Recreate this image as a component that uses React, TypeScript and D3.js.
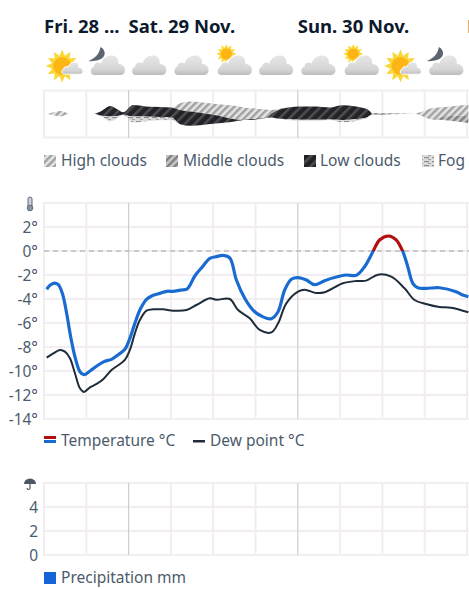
import React from 'react';
import * as d3 from 'd3';

// hours counted from Fri 12:00, one grid cell is 6 hours
const tempHours = [0.38, 0.85, 1.46, 2.03, 2.6, 3.21, 3.78, 4.39, 5.1, 5.67, 6.52, 7.7, 8.64, 9.58, 10.53, 11.47, 12.18, 12.89, 13.6, 14.54, 15.49, 16.43, 17.37, 18.32, 19.5, 20.35, 21.39, 22.57, 23.51, 24.46, 25.4, 26.35, 27.29, 28.47, 29.65, 30.83, 32.25, 33.2, 34.14, 35.09, 36.03, 37.21, 38.39, 39.8, 41.46, 42.87, 44.29, 45.47, 46.65, 47.6, 48.91, 49.95, 50.9, 51.6, 52.31, 53.02, 54.2, 56.09, 58.45, 59.39, 60.2];
const temperature = [-3.19, -2.86, -2.67, -2.81, -3.53, -5.19, -7.14, -8.81, -10.06, -10.31, -10.0, -9.5, -9.19, -9.03, -8.64, -8.19, -7.28, -6.03, -4.92, -4.03, -3.69, -3.53, -3.36, -3.36, -3.25, -3.14, -2.08, -1.25, -0.61, -0.47, -0.36, -0.57, -2.42, -3.94, -4.92, -5.42, -5.64, -5.06, -3.25, -2.36, -2.22, -2.42, -2.81, -2.47, -2.17, -2.0, -2.03, -1.31, -0.06, 0.92, 1.25, 0.92, -0.06, -1.31, -2.69, -3.06, -3.11, -3.06, -3.39, -3.67, -3.81];

const dewHours = [0.38, 1.32, 2.27, 2.97, 3.68, 4.39, 5.1, 5.67, 6.52, 7.46, 8.4, 9.58, 11.47, 12.18, 12.89, 13.6, 14.54, 15.49, 16.9, 18.32, 20.21, 21.62, 23.51, 24.46, 26.35, 27.53, 29.18, 30.6, 32.25, 33.2, 34.37, 36.03, 36.97, 38.62, 39.8, 42.39, 44.29, 45.7, 47.36, 49.25, 51.14, 52.56, 54.2, 56.09, 57.74, 60.2];
const dewPoint = [-8.89, -8.53, -8.25, -8.39, -8.94, -10.19, -11.44, -11.75, -11.36, -11.08, -10.69, -9.92, -9.08, -8.25, -6.86, -5.75, -4.97, -4.86, -4.86, -4.97, -4.92, -4.5, -3.94, -4.06, -4.0, -4.92, -5.61, -6.58, -6.78, -6.03, -4.36, -3.39, -3.22, -3.5, -3.44, -2.69, -2.5, -2.47, -1.97, -2.14, -3.11, -4.08, -4.42, -4.67, -4.72, -5.11];

// cloud cover in percent
const cloudHours = [0.4, 1, 2.3, 3.7, 7, 7.3, 8, 9.4, 10.6, 11.2, 12.65, 15, 18, 19.3, 20.7, 22.5, 24, 27, 28.3, 31.5, 32.3, 33.4, 36.3, 38.6, 40.5, 42.4, 45.7, 46.4, 46.6, 49.2, 52.5, 53, 55, 57, 60.2];
const highClouds = [0, 10, 34, 0, 0, 0, 0, 0, 0, 0, 0, 0, 0, 42, 62, 67, 69, 83, 79, 54, 21, 6, 0, 0, 0, 0, 0, 0, 0, 0, 0, 8, 69, 58, 69];
const middleClouds = [0, 0, 0, 0, 0, 0, 0, 0, 0, 0, 0, 0, 0, 0, 0, 0, 0, 0, 0, 0, 0, 0, 0, 0, 0, 0, 0, 0, 9, 6, 0, 0, 0, 25, 46];
const lowClouds = [0, 0, 0, 0, 0, 4, 25, 66, 35, 15, 73, 62, 62, 89, 89, 73, 56, 15, 0, 0, 25, 58, 83, 83, 75, 92, 56, 12, 0, 0, 0, 0, 0, 0, 0];
const fogValues = [0, 0, 0, 0, 0, 0, 2, 31, 10, 2, 37, 25, 17, 0, 0, 0, 0, 0, 0, 0, 0, 0, 8, 6, 3, 14, 5, 0, 0, 0, 0, 0, 0, 0, 0];

const dayLabels = ['Fri. 28 ...', 'Sat. 29 Nov.', 'Sun. 30 Nov.', 'Mon. 1 Dec.'];
const dayLabelHours = [0, 12, 36, 60];
const gridHours = [0, 6, 12, 18, 24, 30, 36, 42, 48, 54, 60];
const dayHours = [12, 36];
const tempTicks = [2, 0, -2, -4, -6, -8, -10, -12, -14];
const precipTicks = [4, 2, 0];
const precipitation: number[] = [];
const iconHours = [3, 9, 15, 21, 27, 33, 39, 45, 51, 57];
const iconKinds = ['sunBig', 'moon', 'cloud', 'cloud', 'sunSmall', 'cloud', 'cloud', 'sunSmall', 'sunBig', 'moon'];

const textColor = '#4c5b6c';
const gridColor = '#f2edef';
const font = '"Noto Sans", sans-serif';

const x = d3.scaleLinear().domain([0, 60]).range([44, 467]);
const yTemp = d3.scaleLinear().domain([4, -14]).range([203, 419]);
const yPrecip = d3.scaleLinear().domain([6, 0]).range([483, 555]);
const yCloud = d3.scaleLinear().domain([-150, 150]).range([89.7, 137.7]);

const tempLine = d3.line<number>()
  .x((_, i) => x(tempHours[i]))
  .y(d => yTemp(d))
  .curve(d3.curveCatmullRom.alpha(0.5));

const dewLine = d3.line<number>()
  .x((_, i) => x(dewHours[i]))
  .y(d => yTemp(d))
  .curve(d3.curveCatmullRom.alpha(0.5));

const cloudRows = cloudHours.map((hour, i) => ({
  hour,
  high: highClouds[i],
  middle: middleClouds[i],
  low: lowClouds[i],
  fog: fogValues[i]
}));

const cloudStack = d3.stack<any>()
  .keys(['high', 'middle', 'low', 'fog'])
  .offset(d3.stackOffsetSilhouette)(cloudRows);

const cloudArea = d3.area<any>()
  .x(d => x(d.data.hour))
  .y0(d => yCloud(d[0]))
  .y1(d => yCloud(d[1]))
  .curve(d3.curveMonotoneX);

const cloudFill: Record<string, string> = {
  high: 'url(#hatchHigh)',
  middle: 'url(#hatchMiddle)',
  low: 'url(#hatchLow)',
  fog: 'url(#hatchFog)'
};

const zeroOffset = (yTemp(0) - 203) / (419 - 203);

function sunPath(r: number, R: number, n: number) {
  const pts = d3.range(n * 2).map(i => {
    const a = (i * Math.PI) / n;
    const rad = i % 2 ? r : R;
    return [Math.sin(a) * rad, -Math.cos(a) * rad] as [number, number];
  });
  return d3.line()(pts) + 'Z';
}

// cloud outline, about 35 wide and 20 high around its centre
const cloudPath = 'M-13,10 C-17.5,10 -18,3 -13.5,1.5 C-13.5,-2 -9,-3.5 -6.5,-1.5 C-4.5,-7 0,-10 5,-9.5 C9.5,-9 11.5,-5 11,-1 C15,-1 18,2 17.5,6 C17,8.5 15.5,10 13,10 Z';

function Cloud({ dx = 0, dy = 0, s = 1 }: { dx?: number; dy?: number; s?: number }) {
  return (
    <g transform={`translate(${dx},${dy}) scale(${s})`}>
      <path d={cloudPath} fill="url(#cloudGrad)" stroke="#fff" strokeWidth={s < 1 ? 1.5 : 0} />
    </g>
  );
}

function Sun({ dx, dy, R, r, c }: { dx: number; dy: number; R: number; r: number; c: number }) {
  return (
    <g transform={`translate(${dx},${dy})`}>
      <path d={sunPath(r, R, 12)} fill="#fbd83a" />
      <circle r={c} fill="#fdb515" />
    </g>
  );
}

function WeatherIcon({ kind, cx }: { kind: string; cx: number }) {
  return (
    <g transform={`translate(${cx},65)`}>
      {kind === 'sunBig' && (
        <>
          <Sun dx={-3} dy={1} R={16.5} r={10.5} c={9} />
          <Cloud dx={7} dy={3} s={0.62} />
        </>
      )}
      {kind === 'moon' && (
        <>
          <path d="M-7,-18 C-1,-15 -1,-7 -9,-5 C-12,-4 -16,-3.5 -19,-4 C-14,-6 -8,-10 -7,-18 Z" fill="#5d6670" />
          <Cloud dx={0} dy={0} />
        </>
      )}
      {kind === 'cloud' && <Cloud dx={-1} dy={0} />}
      {kind === 'sunSmall' && (
        <>
          <Sun dx={-8} dy={-11} R={10} r={6.5} c={5.5} />
          <path d="M-19,1 L-9,-3 L-1,-10 L9,-9 L6,-3 L-3,2 Z" fill="#fff" opacity={0.9} />
          <Cloud dx={0} dy={0} />
        </>
      )}
    </g>
  );
}

function LegendText({ tx, ty, children }: { tx: number; ty: number; children: React.ReactNode }) {
  return (
    <text x={tx} y={ty} fontSize={15.5} fill={textColor} fontFamily={font}>{children}</text>
  );
}

function Grid({ top, bottom, rows }: { top: number; bottom: number; rows: number[] }) {
  return (
    <g>
      {rows.map(r => (
        <line key={r} x1={43} x2={469} y1={r} y2={r} stroke={gridColor} strokeWidth={2} />
      ))}
      {gridHours.map(h => (
        <line
          key={h}
          x1={x(h)}
          x2={x(h)}
          y1={top}
          y2={bottom}
          stroke={dayHours.includes(h) ? '#cfcdce' : gridColor}
          strokeWidth={dayHours.includes(h) ? 1.2 : 2}
        />
      ))}
    </g>
  );
}

export default function App() {
  return (
    <svg
      width={469}
      height={589}
      style={{ position: 'absolute', left: 0, top: 0, background: '#fff' }}
    >
      <defs>
        <pattern id="hatchHigh" width={5} height={5} patternUnits="userSpaceOnUse" patternTransform="rotate(45)">
          <rect width={5} height={5} fill="#e4e4e4" />
          <rect width={2.4} height={5} fill="#a0a0a0" />
        </pattern>
        <pattern id="hatchMiddle" width={5} height={5} patternUnits="userSpaceOnUse" patternTransform="rotate(45)">
          <rect width={5} height={5} fill="#c9c9c9" />
          <rect width={2.4} height={5} fill="#7f7f7f" />
        </pattern>
        <pattern id="hatchLow" width={7} height={7} patternUnits="userSpaceOnUse" patternTransform="rotate(45)">
          <rect width={7} height={7} fill="#232327" />
          <rect width={2.5} height={7} fill="#4e4e52" />
        </pattern>
        <pattern id="hatchFog" width={8} height={4} patternUnits="userSpaceOnUse">
          <rect width={8} height={4} fill="#dcdcdc" />
          <rect width={5} height={1.2} y={1} fill="#8e8e8e" />
          <rect x={4} width={3} height={1} y={3} fill="#a4a4a4" />
        </pattern>
        <linearGradient id="tempGrad" gradientUnits="userSpaceOnUse" x1={0} x2={0} y1={203} y2={419}>
          <stop offset={zeroOffset} stopColor="#b01010" />
          <stop offset={zeroOffset} stopColor="#1a6bd0" />
        </linearGradient>
        <linearGradient id="cloudGrad" x1={0} x2={0} y1={0} y2={1}>
          <stop offset="0" stopColor="#e6e6e6" />
          <stop offset="0.7" stopColor="#d6d6d6" />
          <stop offset="1" stopColor="#bcbcbc" />
        </linearGradient>
      </defs>

      {dayLabels.map((d, i) => (
        <text
          key={d}
          x={x(dayLabelHours[i])}
          y={33}
          fontSize={18.5}
          fontWeight={700}
          fill="#0d1a2e"
          fontFamily={font}
        >
          {d}
        </text>
      ))}

      {iconHours.map((h, i) => (
        <WeatherIcon key={h} kind={iconKinds[i]} cx={x(h)} />
      ))}

      <Grid top={90} bottom={138} rows={[90.5, 137.5]} />
      {cloudStack.map(s => (
        <path key={s.key} d={cloudArea(s) || ''} fill={cloudFill[s.key]} />
      ))}

      <rect x={44} y={155} width={12} height={12} fill="url(#hatchHigh)" />
      <LegendText tx={61} ty={166}>High clouds</LegendText>
      <rect x={166} y={155} width={12} height={12} fill="url(#hatchMiddle)" />
      <LegendText tx={183} ty={166}>Middle clouds</LegendText>
      <rect x={304} y={155} width={12} height={12} fill="url(#hatchLow)" />
      <LegendText tx={320} ty={166}>Low clouds</LegendText>
      <rect x={422} y={155} width={12} height={12} fill="url(#hatchFog)" />
      <LegendText tx={438} ty={166}>Fog</LegendText>

      <Grid top={203} bottom={419} rows={[4, ...tempTicks].map(t => yTemp(t))} />
      <line x1={44} x2={469} y1={yTemp(0)} y2={yTemp(0)} stroke="#c9c9c9" strokeWidth={2.2} strokeDasharray="5 4" />
      {tempTicks.map(t => (
        <text key={t} x={38} y={yTemp(t) + 6} textAnchor="end" fontSize={15.5} fill={textColor} fontFamily={font}>
          {`${t}°`}
        </text>
      ))}
      <g transform="translate(30,204)" fill="#8b96a1" stroke="#5f6b78" strokeWidth={1}>
        <rect x={-2} y={-7} width={4} height={11} rx={2} fill="#ccd2d8" />
        <circle cy={4} r={2.8} />
      </g>

      <path d={dewLine(dewPoint) || ''} fill="none" stroke="#1f2d3b" strokeWidth={2} />
      <path d={tempLine(temperature) || ''} fill="none" stroke="url(#tempGrad)" strokeWidth={3.2} />

      <rect x={44} y={436} width={12} height={3} fill="#b01010" />
      <rect x={44} y={440} width={12} height={3} fill="#1a6bd0" />
      <LegendText tx={61} ty={446}>Temperature °C</LegendText>
      <rect x={193} y={440} width={12} height={2.5} fill="#1f2d3b" />
      <LegendText tx={210} ty={446}>Dew point °C</LegendText>

      <Grid top={483} bottom={555} rows={[6, 4, 2, 0].map(t => yPrecip(t))} />
      {precipTicks.map(t => (
        <text key={t} x={38} y={yPrecip(t) + 6} textAnchor="end" fontSize={15.5} fill={textColor} fontFamily={font}>
          {t}
        </text>
      ))}
      {precipitation.map((v, i) => (
        <rect key={i} x={x(i)} y={yPrecip(v)} width={6} height={yPrecip(0) - yPrecip(v)} fill="#1565d8" />
      ))}
      <g transform="translate(30,484)" fill="#4c5763">
        <path d="M-6,0 A6,5.5 0 0 1 6,0 Z" />
        <path d="M0,0 L0,4 A1.5,1.5 0 0 1 -3,4" fill="none" stroke="#4c5763" strokeWidth={1.2} />
      </g>

      <rect x={44} y={572} width={12} height={12} fill="#1565d8" />
      <LegendText tx={61} ty={583}>Precipitation mm</LegendText>
    </svg>
  );
}
